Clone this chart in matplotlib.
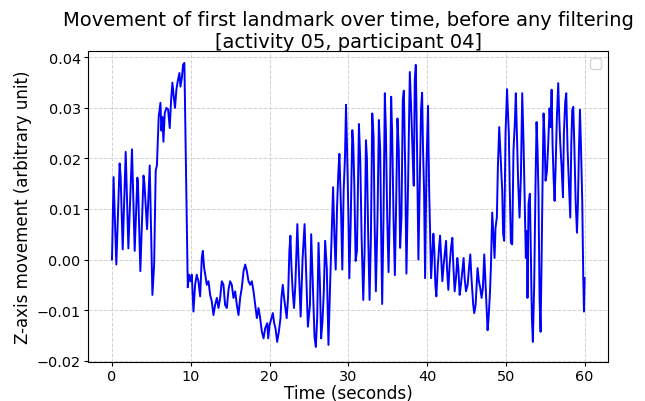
import matplotlib
matplotlib.use("Agg")
import matplotlib.pyplot as plt
import numpy as np

title = "Movement of first landmark over time, before any filtering\n[activity 05, participant 04]"
x_label = "Time (seconds)"
y_label = "Z-axis movement (arbitrary unit)"
x_ticks = [0, 10, 20, 30, 40, 50, 60]
y_ticks = [-0.02, -0.01, 0.00, 0.01, 0.02, 0.03, 0.04]

# time (s) and Z movement
time_s = [
    0.00, 0.20, 0.55, 0.97, 1.10, 1.36, 1.74, 2.08, 2.54, 2.88, 3.22, 3.30, 3.60, 4.00, 4.12,
    4.45, 4.79, 5.13, 5.35, 5.55, 5.70, 5.93, 6.15, 6.27, 6.40, 6.53, 6.70, 6.90, 7.12, 7.33,
    7.50, 7.67, 7.84, 8.00, 8.18, 8.35, 8.56, 8.69, 8.86, 9.02, 9.19, 9.62, 9.79, 9.96, 10.13,
    10.34, 10.55, 10.76, 10.97, 11.19, 11.40, 11.53, 11.70, 11.91, 12.03, 12.25, 12.46, 12.67,
    12.88, 13.09, 13.31, 13.52, 13.73, 13.94, 14.15, 14.36, 14.58, 14.79, 15.00, 15.21, 15.42,
    15.64, 15.85, 16.06, 16.27, 16.48, 16.70, 16.91, 17.12, 17.33, 17.54, 17.75, 17.97, 18.18,
    18.39, 18.60, 18.81, 19.03, 19.24, 19.45, 19.71, 19.83, 20.00, 20.25, 20.42, 20.59, 20.76,
    20.97, 21.18, 21.39, 21.51, 21.68, 21.85, 22.02, 22.18, 22.35, 22.52, 22.65, 22.77, 22.94,
    23.11, 23.28, 23.53, 23.70, 23.95, 24.20, 24.45, 24.62, 24.87, 25.13, 25.29, 25.50, 25.71,
    25.88, 26.05, 26.22, 26.39, 26.55, 26.72, 26.89, 27.06, 27.27, 27.48, 27.69, 27.90, 28.07,
    28.24, 28.40, 28.57, 28.74, 28.87, 29.08, 29.24, 29.41, 29.58, 29.71, 29.83, 30.00, 30.13,
    30.30, 30.51, 30.63, 30.76, 30.93, 31.10, 31.35, 31.52, 31.69, 31.90, 32.07, 32.24, 32.36,
    32.53, 32.70, 32.87, 33.04, 33.21, 33.33, 33.50, 33.71, 33.88, 34.05, 34.18, 34.30, 34.47,
    34.64, 34.77, 34.94, 35.11, 35.27, 35.44, 35.57, 35.74, 35.91, 36.08, 36.24, 36.41, 36.58,
    36.75, 36.92, 37.05, 37.22, 37.38, 37.59, 37.81, 38.02, 38.19, 38.31, 38.44, 38.57, 38.73,
    38.90, 39.07, 39.24, 39.37, 39.49, 39.62, 39.75, 39.92, 40.12, 40.25, 40.51, 40.68, 40.80,
    40.93, 41.05, 41.18, 41.35, 41.52, 41.65, 41.77, 41.94, 42.11, 42.28, 42.41, 42.53, 42.70,
    42.87, 43.04, 43.21, 43.33, 43.50, 43.67, 43.84, 43.97, 44.14, 44.30, 44.47, 44.64, 44.77,
    44.94, 45.15, 45.32, 45.49, 45.61, 45.74, 45.86, 45.99, 46.16, 46.29, 46.41, 46.58, 46.75,
    46.92, 47.09, 47.26, 47.43, 47.55, 47.68, 47.81, 47.97, 48.10, 48.27, 48.44, 48.57, 48.69,
    48.86, 48.99, 49.16, 49.28, 49.41, 49.54, 49.66, 49.79, 49.96, 50.15, 50.38, 50.51, 50.64,
    50.81, 50.97, 51.14, 51.27, 51.40, 51.57, 51.74, 51.91, 52.08, 52.25, 52.42, 52.54, 52.67,
    52.75, 52.88, 53.05, 53.18, 53.31, 53.43, 53.60, 53.77, 53.90, 54.03, 54.15, 54.28, 54.41,
    54.53, 54.66, 54.79, 54.92, 55.04, 55.21, 55.38, 55.55, 55.68, 55.81, 55.93, 56.06, 56.19,
    56.31, 56.48, 56.65, 56.78, 56.91, 57.08, 57.25, 57.37, 57.54, 57.67, 57.84, 58.01, 58.18,
    58.31, 58.43, 58.56, 58.69, 58.86, 59.03, 59.15, 59.28, 59.41, 59.53, 59.70, 59.83, 59.92,
    60.00,
]
z_move = [
    0.0000, 0.0163, -0.0010, 0.0190, 0.0163, 0.0020, 0.0213, 0.0022, 0.0218, 0.0017, 0.0162, 0.0150, -0.0023, 0.0166, 0.0150,
    0.0060, 0.0186, -0.0070, -0.0010, 0.0176, 0.0186, 0.0282, 0.0310, 0.0255, 0.0282, 0.0233, 0.0290, 0.0300, 0.0297, 0.0260,
    0.0315, 0.0350, 0.0322, 0.0300, 0.0337, 0.0353, 0.0369, 0.0342, 0.0358, 0.0385, 0.0389, -0.0055, -0.0030, -0.0043, -0.0030,
    -0.0103, -0.0050, -0.0030, -0.0043, -0.0073, 0.0003, 0.0017, -0.0017, -0.0037, -0.0050, -0.0043, -0.0070, -0.0083,
    -0.0110, -0.0090, -0.0076, -0.0096, -0.0076, -0.0043, -0.0050, -0.0090, -0.0096, -0.0060, -0.0043, -0.0050, -0.0076,
    -0.0063, -0.0090, -0.0110, -0.0076, -0.0056, -0.0023, -0.0010, -0.0023, -0.0043, -0.0050, -0.0043, -0.0063, -0.0090,
    -0.0116, -0.0096, -0.0116, -0.0143, -0.0156, -0.0136, -0.0126, -0.0156, -0.0130, -0.0116, -0.0106, -0.0126, -0.0136,
    -0.0163, -0.0143, -0.0116, -0.0076, -0.0050, -0.0076, -0.0096, -0.0116, -0.0076, 0.0017, 0.0047, -0.0010, -0.0063,
    -0.0096, -0.0050, 0.0070, -0.0010, -0.0113, 0.0003, 0.0070, -0.0010, -0.0133, -0.0090, 0.0050, -0.0050, -0.0153,
    -0.0173, -0.0116, 0.0033, -0.0043, -0.0156, -0.0123, -0.0063, 0.0037, -0.0017, -0.0169, -0.0050, 0.0053, 0.0143,
    0.0043, -0.0020, 0.0103, 0.0173, 0.0209, 0.0096, -0.0020, 0.0136, 0.0203, 0.0306, 0.0229, 0.0096, -0.0037,
    0.0070, 0.0256, 0.0229, 0.0150, -0.0003, 0.0017, 0.0268, 0.0196, 0.0043, -0.0080, 0.0017, 0.0236, 0.0203,
    0.0043, -0.0080, 0.0043, 0.0289, 0.0243, 0.0083, -0.0063, 0.0083, 0.0276, 0.0216, 0.0043, -0.0088, 0.0083,
    0.0329, 0.0256, 0.0083, -0.0025, 0.0096, 0.0322, 0.0249, 0.0083, -0.0031, 0.0116, 0.0279, 0.0216, 0.0023,
    0.0083, 0.0316, 0.0334, 0.0183, -0.0028, 0.0150, 0.0371, 0.0282, 0.0196, 0.0146, 0.0355, 0.0385, 0.0216,
    0.0000, 0.0150, 0.0299, 0.0330, 0.0216, 0.0136, -0.0037, 0.0183, 0.0304, 0.0150, -0.0037, 0.0017, 0.0051,
    0.0017, -0.0050, -0.0073, -0.0017, 0.0023, 0.0047, 0.0010, -0.0043, -0.0010, 0.0017, 0.0037, -0.0017, -0.0060,
    -0.0010, 0.0023, 0.0043, -0.0010, -0.0063, -0.0037, 0.0003, -0.0017, -0.0070, -0.0050, -0.0023, 0.0003, -0.0037,
    -0.0063, -0.0050, -0.0017, 0.0010, -0.0030, -0.0063, -0.0090, -0.0106, -0.0090, -0.0050, -0.0017, -0.0043, -0.0056,
    -0.0076, -0.0056, 0.0010, -0.0050, -0.0096, -0.0140, -0.0116, -0.0070, -0.0017, 0.0093, 0.0043, 0.0003, 0.0063,
    0.0083, 0.0183, 0.0262, 0.0223, 0.0183, 0.0136, 0.0050, 0.0037, 0.0249, 0.0337, 0.0249, 0.0130, 0.0033,
    0.0030, 0.0216, 0.0269, 0.0329, 0.0249, 0.0150, 0.0083, 0.0163, 0.0329, 0.0229, 0.0096, 0.0003, 0.0056,
    -0.0076, 0.0110, 0.0130, 0.0003, -0.0116, -0.0163, -0.0050, 0.0150, 0.0272, 0.0216, 0.0123, -0.0076, -0.0143,
    -0.0010, 0.0150, 0.0289, 0.0243, 0.0156, 0.0173, 0.0229, 0.0299, 0.0262, 0.0336, 0.0229, 0.0163, 0.0116,
    0.0176, 0.0282, 0.0349, 0.0282, 0.0229, 0.0183, 0.0123, 0.0249, 0.0312, 0.0329, 0.0216, 0.0150, 0.0083,
    0.0229, 0.0296, 0.0302, 0.0229, 0.0116, 0.0053, 0.0110, 0.0216, 0.0296, 0.0229, 0.0116, -0.0037, -0.0103,
    -0.0037,
]

fig = plt.figure(figsize=(6.45, 4.02), dpi=100)
ax = fig.add_axes([0.137, 0.098, 0.806, 0.772])

ax.plot(time_s, z_move, color="blue", linewidth=1.4)

ax.set_xlim(-3, 63)
ax.set_ylim(-0.0202, 0.0412)
ax.set_xticks(x_ticks)
ax.set_yticks(y_ticks)
ax.tick_params(labelsize=10.4, length=3, pad=2.5)
ax.grid(True, linestyle="--", color="#cccccc", linewidth=0.7, alpha=0.9)

ax.set_title(title, fontsize=14, pad=3)
ax.set_xlabel(x_label, fontsize=12.2, labelpad=0.5)
ax.set_ylabel(y_label, fontsize=12, labelpad=3)
ax.legend(handles=[], labels=[], loc="upper right")

fig.savefig("out.png", dpi=100)
